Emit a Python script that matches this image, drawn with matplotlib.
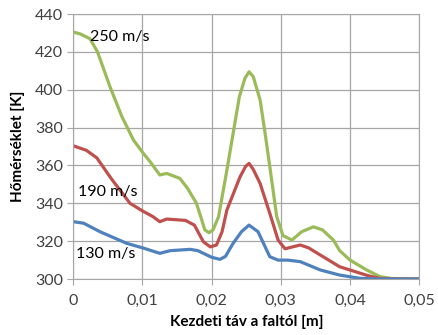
import matplotlib
matplotlib.use('Agg')
import matplotlib.pyplot as plt
from matplotlib.ticker import FuncFormatter

plt.rcParams['font.family'] = ['Lato', 'DejaVu Sans']

# 250 m/s (green)
x_250 = [0, 0.001, 0.0024, 0.0035, 0.0053, 0.007, 0.0087, 0.0100, 0.0111, 0.0125,
         0.0135, 0.0154, 0.0165, 0.0178, 0.0185, 0.019, 0.0196, 0.0202, 0.021, 0.0222,
         0.0231, 0.024, 0.0248, 0.0254, 0.026, 0.027, 0.0278, 0.0284, 0.0294,
         0.0303, 0.0316, 0.0330, 0.0347, 0.0360, 0.0376, 0.0385, 0.040, 0.0424,
         0.0443, 0.046, 0.05]
y_250 = [430.5, 429.5, 427, 420, 401.6, 386, 373.4, 367, 362, 355,
         355.8, 353.2, 348, 340, 332, 326, 324.5, 326, 333, 357.6,
         377, 396.3, 406, 409.5, 407, 394.6, 375, 359.4, 333,
         323, 320.6, 325, 327.6, 326, 320.6, 315, 310, 304.8,
         301.3, 300.3, 300]

# 190 m/s (red)
x_190 = [0, 0.0019, 0.0034, 0.0055, 0.0082, 0.0100, 0.0115, 0.0125, 0.0135, 0.0162,
         0.0175, 0.0188, 0.0198, 0.0207, 0.0215, 0.0222, 0.0241, 0.0249, 0.0254,
         0.026, 0.027, 0.0284, 0.0296, 0.0306, 0.0328, 0.0340, 0.0357, 0.0385,
         0.0424, 0.0443, 0.047, 0.05]
y_190 = [370.4, 368, 364, 353, 340, 336, 333, 330.3, 331.7, 331,
         328.5, 319.7, 317, 318, 325, 336.5, 354, 359.5, 361.1,
         358, 350.5, 334.7, 320.6, 316, 318, 316.5, 312.7, 306.5,
         302, 300.3, 300, 300]

# 130 m/s (blue)
x_130 = [0, 0.0015, 0.00386, 0.0077, 0.0100, 0.0125, 0.014, 0.0169, 0.018, 0.0188,
         0.0200, 0.0212, 0.022, 0.0231, 0.0243, 0.0254, 0.0267, 0.0284, 0.0296,
         0.031, 0.0328, 0.0357, 0.0385, 0.0414, 0.044, 0.05]
y_130 = [330.3, 329.5, 325, 318.9, 316.5, 313.6, 315, 315.7, 315, 313.6,
         311.5, 310.4, 312, 318.9, 325, 328.5, 325, 311.8, 310,
         310, 309.2, 304.8, 302.1, 300.4, 300, 300]

fig = plt.figure(figsize=(4.39, 3.35), dpi=100)
ax = fig.add_axes([0.167, 0.167, 0.788, 0.791])

ax.plot(x_250, y_250, color='#9BBB59', lw=2.3, solid_joinstyle='round')
ax.plot(x_190, y_190, color='#C0504D', lw=2.3, solid_joinstyle='round')
ax.plot(x_130, y_130, color='#4F81BD', lw=2.3, solid_joinstyle='round')

ax.set_xlim(0, 0.05)
ax.set_ylim(300, 440)
ax.set_xticks([0, 0.01, 0.02, 0.03, 0.04, 0.05])
ax.set_yticks(range(300, 441, 20))
ax.xaxis.set_major_formatter(FuncFormatter(lambda v, p: '0' if v == 0 else f'{v:.2f}'.replace('.', ',')))
ax.grid(True, color='#A6A6A6', lw=0.9)
ax.set_axisbelow(True)
for s in ax.spines.values():
    s.set_color('#A6A6A6')
ax.tick_params(colors='#A6A6A6', labelcolor='#404040', labelsize=11.5, length=4)
ax.tick_params(axis='x', pad=7)

ax.text(0.0024, 428, '250 m/s', fontsize=11.5, va='center', ha='left')
ax.text(0.0007, 346, '190 m/s', fontsize=11.5, va='center', ha='left')
ax.text(0.0004, 313.5, '130 m/s', fontsize=11.5, va='center', ha='left')

ax.set_xlabel('Kezdeti táv a faltól [m]', fontsize=11, fontweight='bold', labelpad=5)
ax.set_ylabel('Hőmérséklet [K]', fontsize=11, fontweight='bold', labelpad=7)

fig.savefig('out.png', dpi=100)
